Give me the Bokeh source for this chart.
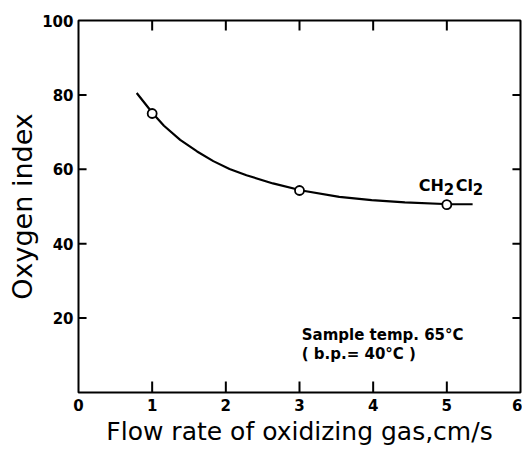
import math
from bokeh.plotting import figure
from bokeh.models import LinearAxis, FixedTicker, Range1d, Title
from bokeh.embed import file_html
from bokeh.resources import INLINE
from bokeh.core.properties import value

# ---- data ----
x_ticks = [0, 1, 2, 3, 4, 5, 6]
y_ticks = [0, 20, 40, 60, 80, 100]
pts_x = [1, 3, 5]
pts_y = [75.0, 54.3, 50.5]
curve_x = [0.79, 1.01, 1.16, 1.38, 1.61, 1.83, 2.05, 2.28, 2.64, 3.03, 3.54, 3.98, 4.43, 5.04, 5.35]
curve_y = [80.5, 75.0, 71.7, 67.9, 64.8, 62.2, 60.1, 58.4, 56.2, 54.3, 52.6, 51.7, 51.1, 50.6, 50.6]
x_title = "Flow rate of oxidizing gas,cm/s"
y_title = "Oxygen index"
note1 = "Sample temp. 65°C"
note2 = "( b.p.= 40°C )"
species_parts = ["CH", "2", "Cl", "2"]

FONT = "DejaVu Sans"

p = figure(width=522, height=446, output_backend="svg", toolbar_location=None,
           x_range=Range1d(0, 6), y_range=Range1d(0, 100),
           x_axis_location=None, y_axis_location=None,
           min_border_left=78, min_border_top=20, min_border_right=2,
           min_border_bottom=54)
p.grid.visible = False
p.outline_line_color = "black"
p.outline_line_width = 2
p.background_fill_color = "white"
p.border_fill_color = "white"


def make_axis(ticks, label_standoff):
    ax = LinearAxis(ticker=FixedTicker(ticks=ticks))
    ax.axis_line_color = None
    ax.major_tick_line_color = None
    ax.major_tick_in = 0
    ax.major_tick_out = 0
    ax.minor_tick_line_color = None
    ax.major_label_text_font = FONT
    ax.major_label_text_font_style = "bold"
    ax.major_label_text_font_size = "15px"
    ax.major_label_text_color = "black"
    ax.major_label_standoff = label_standoff
    return ax


bottom = make_axis(x_ticks, 6)
p.add_layout(bottom, "below")
left = make_axis(y_ticks, 5)
left.major_label_overrides = {0: ""}
p.add_layout(left, "left")

# axis titles as side-panel titles
p.add_layout(Title(text=x_title, align="center", text_font=FONT,
                   text_font_size="25px", text_font_style="normal",
                   text_color="black", standoff=2), "below")
p.add_layout(Title(text=y_title, align="center", text_font=FONT,
                   text_font_size="27px", text_font_style="normal",
                   text_color="black", standoff=4), "left")

# curve and points
p.line(curve_x, curve_y, line_color="black", line_width=2.2)
p.scatter(pts_x, pts_y, size=9, marker="circle", fill_color="white",
          line_color="black", line_width=1.8)

# inward tick marks on all four sides, drawn as dash markers whose centre
# sits half a tick length inside the frame edge
inner_x = x_ticks[1:-1]
inner_y = y_ticks[1:-1]
half_b = 1.5    # y data units (~5.5 px)
half_t = 1.35   # y data units (~5 px)
half_s = 0.055  # x data units (~4 px)
tick_kw = dict(marker="dash", line_color="black", line_width=2)
p.scatter(inner_x, [y_ticks[0] + half_b] * len(inner_x), size=11,
          angle=math.pi / 2, **tick_kw)
p.scatter(inner_x, [y_ticks[-1] - half_t] * len(inner_x), size=10,
          angle=math.pi / 2, **tick_kw)
p.scatter([x_ticks[0] + half_s] * len(inner_y), inner_y, size=8,
          angle=0, **tick_kw)
p.scatter([x_ticks[-1] - half_s] * len(inner_y), inner_y, size=8,
          angle=0, **tick_kw)

# annotations
p.text([3.03], [15.4], text=[note1], text_font=value(FONT), text_font_style="bold",
       text_font_size="15px", text_color="black", text_baseline="alphabetic",
       text_align="left")
p.text([3.03], [10.3], text=[note2], text_font=value(FONT), text_font_style="bold",
       text_font_size="15px", text_color="black", text_baseline="alphabetic",
       text_align="left")

offs = [0, 25, 37, 54]
dys = [0, 3, 0, 3]
sizes = ["16px", "15px", "16px", "15px"]
for part, ox, oy, fs in zip(species_parts, offs, dys, sizes):
    p.text([4.62], [55.6], text=[part], text_font=value(FONT), text_font_style="bold",
           text_font_size=fs, text_color="black", text_baseline="alphabetic",
           text_align="left", x_offset=ox, y_offset=oy)

open("out.html", "w").write(file_html(p, INLINE))
